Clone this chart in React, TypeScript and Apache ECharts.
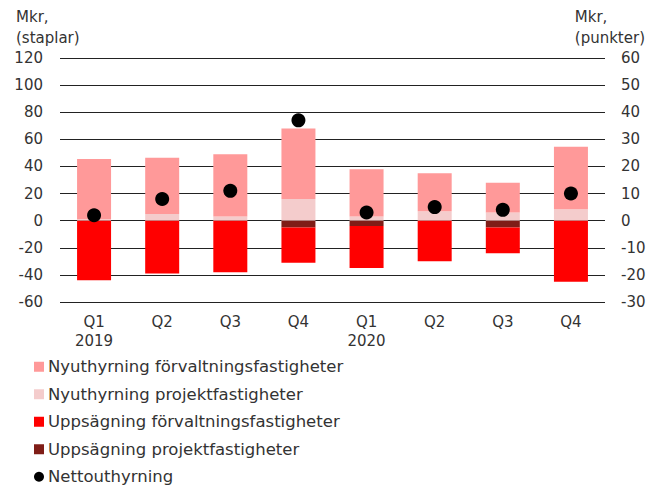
import React, { useEffect, useRef } from "react";
import * as echarts from "echarts";

const categories = ["Q1\n2019", "Q2", "Q3", "Q4", "Q1\n2020", "Q2", "Q3", "Q4"];
const nyForvaltning = [44.5, 41.5, 46, 52, 35, 28, 22, 46];
const nyProjekt = [1, 5, 3, 16, 3, 7, 6, 8.5];
const uppForvaltning = [-44, -39, -38, -26, -31, -30, -19, -45];
const uppProjekt = [0, 0, 0, -5, -4, 0, -5, 0];
const netto = [2, 8, 11, 37, 3, 5, 4, 10];
const leftTicks = { min: -60, max: 120, interval: 20 };
const rightTicks = { min: -30, max: 60, interval: 10 };

const FONT = "DejaVu Sans";
const TXT = "#333";

export default function App() {
  const ref = useRef<HTMLDivElement>(null);
  useEffect(() => {
    if (!ref.current) return;
    const chart = echarts.init(ref.current, undefined, { renderer: "svg" });
    chart.setOption({
      animation: false,
      textStyle: { fontFamily: FONT },
      grid: { left: 60, right: 47, top: 58, bottom: 187 },
      graphic: [
        { type: "text", left: 16, top: 6, style: { text: "Mkr,\n(staplar)", font: `15px '${FONT}'`, fill: TXT, lineHeight: 21 } },
        { type: "text", right: 7, top: 6, style: { text: "Mkr,\n(punkter)", font: `15px '${FONT}'`, fill: TXT, lineHeight: 21, align: "right" } },
      ],
      legend: {
        orient: "vertical",
        left: 29,
        top: 352,
        height: 160,
        itemWidth: 10,
        itemHeight: 10,
        itemGap: 8,
        textStyle: { fontFamily: FONT, fontSize: 16.5, color: TXT, padding: [0, 0, 0, -1], lineHeight: 19.5 },
        data: [
          { name: "Nyuthyrning förvaltningsfastigheter", icon: "rect" },
          { name: "Nyuthyrning projektfastigheter", icon: "rect" },
          { name: "Uppsägning förvaltningsfastigheter", icon: "rect" },
          { name: "Uppsägning projektfastigheter", icon: "rect" },
          { name: "Nettouthyrning", icon: "circle" },
        ],
      },
      xAxis: {
        type: "category",
        data: categories,
        axisLine: { show: false },
        axisTick: { show: false },
        axisLabel: { color: TXT, fontSize: 15, fontFamily: FONT, lineHeight: 19, margin: 10 },
      },
      yAxis: [
        {
          type: "value",
          ...leftTicks,
          axisLine: { show: false },
          axisTick: { show: false },
          splitLine: { lineStyle: { color: "#222", width: 1 } },
          axisLabel: { color: TXT, fontSize: 15, fontFamily: FONT, margin: 17 },
        },
        {
          type: "value",
          ...rightTicks,
          axisLine: { show: false },
          axisTick: { show: false },
          splitLine: { show: false },
          axisLabel: { color: TXT, fontSize: 15, fontFamily: FONT, margin: 16 },
        },
      ],
      series: [
        { name: "Nyuthyrning projektfastigheter", type: "bar", stack: "s", barWidth: 34, data: nyProjekt, itemStyle: { color: "#F4CCCC" } },
        { name: "Nyuthyrning förvaltningsfastigheter", type: "bar", stack: "s", barWidth: 34, data: nyForvaltning, itemStyle: { color: "#FF9999" } },
        { name: "Uppsägning projektfastigheter", type: "bar", stack: "s", barWidth: 34, data: uppProjekt, itemStyle: { color: "#7F1D17" } },
        { name: "Uppsägning förvaltningsfastigheter", type: "bar", stack: "s", barWidth: 34, data: uppForvaltning, itemStyle: { color: "#FF0000" } },
        { name: "Nettouthyrning", type: "scatter", yAxisIndex: 1, symbolSize: 14, data: netto, itemStyle: { color: "#000", opacity: 1 }, z: 5 },
      ],
    });
    return () => chart.dispose();
  }, []);
  return <div ref={ref} style={{ width: 652, height: 489, position: "absolute", left: 0, top: 0 }} />;
}
